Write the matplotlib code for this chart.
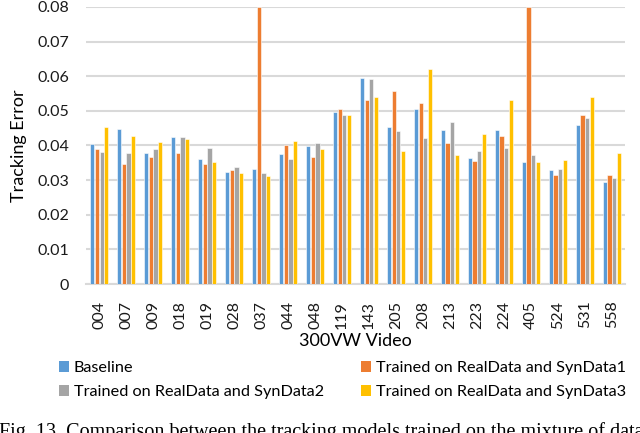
import numpy as np
import matplotlib
matplotlib.use("Agg")
import matplotlib.pyplot as plt
from matplotlib.patches import Patch

plt.rcParams['font.family'] = ['Lato', 'DejaVu Sans']

videos = ['004', '007', '009', '018', '019', '028', '037', '044', '048', '119',
          '143', '205', '208', '213', '223', '224', '405', '524', '531', '558']
baseline = [0.0404, 0.0447, 0.0377, 0.0424, 0.0360, 0.0324, 0.0333, 0.0376, 0.0398, 0.0497,
            0.0595, 0.0453, 0.0504, 0.0444, 0.0364, 0.0444, 0.0351, 0.0330, 0.0460, 0.0295]
syn1 = [0.0390, 0.0347, 0.0368, 0.0377, 0.0347, 0.0329, 0.0800, 0.0401, 0.0368, 0.0504,
        0.0532, 0.0556, 0.0524, 0.0406, 0.0354, 0.0428, 0.0800, 0.0314, 0.0487, 0.0315]
syn2 = [0.0382, 0.0379, 0.0389, 0.0424, 0.0393, 0.0338, 0.0320, 0.0362, 0.0408, 0.0488,
        0.0591, 0.0441, 0.0423, 0.0469, 0.0383, 0.0394, 0.0372, 0.0332, 0.0479, 0.0305]
syn3 = [0.0453, 0.0426, 0.0410, 0.0418, 0.0351, 0.0322, 0.0311, 0.0413, 0.0389, 0.0488,
        0.0539, 0.0383, 0.0622, 0.0373, 0.0433, 0.0531, 0.0352, 0.0357, 0.0540, 0.0378]

names = ['Baseline', 'Trained on RealData and SynData1',
         'Trained on RealData and SynData2', 'Trained on RealData and SynData3']
colors = ['#5B9BD5', '#ED7D31', '#A5A5A5', '#FFC000']
series = [baseline, syn1, syn2, syn3]

fig = plt.figure(figsize=(6.4, 4.33), dpi=100)
ax = fig.add_axes([0.134, 0.344, 0.843, 0.640])

x = np.arange(len(videos))
w = 0.155
step = 0.175
for i, (vals, c) in enumerate(zip(series, colors)):
    ax.bar(x + (i - 1.5) * step, vals, width=w, color=c, edgecolor='white', linewidth=0.4, zorder=3)

ax.set_xlim(-0.5, len(videos) - 0.5)
ax.set_ylim(0, 0.08)
ax.set_yticks(np.arange(0, 0.081, 0.01))
ax.set_yticklabels(['0'] + ['%.2f' % v for v in np.arange(0.01, 0.081, 0.01)])
ax.set_xticks(x)
ax.set_xticklabels(videos, rotation=90)
ax.tick_params(axis='y', length=0, labelsize=11.5, colors='#1a1a1a', pad=12)
ax.tick_params(axis='x', length=0, labelsize=11.5, colors='#1a1a1a', pad=12)
ax.grid(axis='y', color='#d9d9d9', linewidth=1.5, zorder=0)
for s in ['top', 'right', 'left']:
    ax.spines[s].set_visible(False)
ax.spines['bottom'].set_color('#d9d9d9')
ax.spines['bottom'].set_linewidth(1.5)

ax.set_ylabel('Tracking Error', fontsize=13, labelpad=7)
ax.set_xlabel('300VW Video', fontsize=13, labelpad=3)

order = [0, 2, 1, 3]
handles = [Patch(facecolor=colors[k], label=names[k]) for k in order]
fig.legend(handles=handles, ncol=2, loc='upper left', bbox_to_anchor=(0.074, 0.192),
           frameon=False, fontsize=11.7, handlelength=0.62, handleheight=0.62,
           handletextpad=0.3, columnspacing=2.3, labelspacing=0.62, borderpad=0.2)

fig.text(-0.002, 0.026, 'Fig. 13. Comparison between the tracking models trained on the mixture of data',
         family=['Liberation Serif', 'DejaVu Serif'], fontsize=14.5, va='top', ha='left')

fig.savefig('out.png', dpi=100)
